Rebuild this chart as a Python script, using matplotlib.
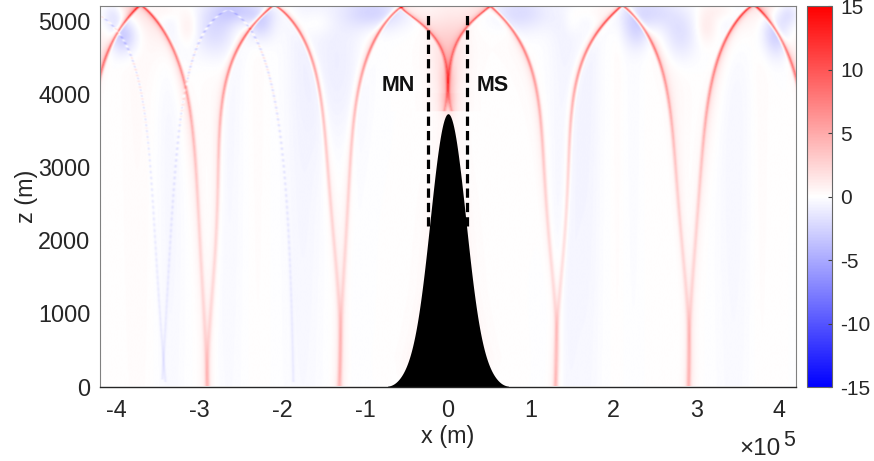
import numpy as np
import matplotlib
matplotlib.use("Agg")
import matplotlib.pyplot as plt

plt.rcParams['font.family'] = ['Liberation Sans', 'DejaVu Sans']

# ---- values (x in units of 1e5 m, z in m) ----
r1_x = [0.507, 0.712, 0.869, 0.989, 1.074, 1.146, 1.194, 1.255, 1.303, 1.303]
r1_z = [5200, 4939, 4734, 4419, 3955, 3135, 2548, 1633, 266, 0]
r2_x = [2.099, 1.954, 1.749, 1.628, 1.556, 1.484, 1.423, 1.351, 1.303, 1.303]
r2_z = [5200, 5007, 4775, 4501, 4051, 3463, 2548, 1182, 266, 0]
r3_x = [2.099, 2.316, 2.473, 2.593, 2.702, 2.786, 2.907, 2.907]
r3_z = [5200, 4939, 4693, 4283, 3463, 2548, 266, 0]
r4_x = [3.691, 3.486, 3.281, 3.185, 3.100, 3.016, 2.955, 2.907, 2.907]
r4_z = [5200, 4966, 4597, 4092, 3463, 2548, 1414, 266, 0]
r5_x = [3.691, 3.884, 4.041, 4.198, 4.30, 4.40]
r5_z = [5200, 4980, 4693, 4228, 3700, 3000]
r6_x = [0.507, 0.229, 0.060, 0.024, -0.01, -0.04]
r6_z = [5200, 4898, 4556, 4296, 4000, 3750]
l1_x = [-0.519, -0.784, -0.977, -1.098, -1.182, -1.206, -1.303, -1.303]
l1_z = [5200, 4911, 4501, 3914, 2999, 2548, 266, 0]
l2_x = [-2.111, -1.821, -1.628, -1.508, -1.411, -1.315, -1.315]
l2_z = [5200, 4870, 4460, 3463, 2548, 266, 0]
l3_x = [-2.111, -2.388, -2.593, -2.714, -2.786, -2.850, -2.907, -2.907]
l3_z = [5200, 4870, 4501, 3914, 2548, 1200, 48, 0]
l4_x = [-3.715, -3.510, -3.269, -3.148, -3.016, -2.960, -2.907, -2.907]
l4_z = [5200, 4966, 4501, 3914, 2548, 1200, 48, 0]
l5_x = [-3.715, -3.957, -4.113, -4.186, -4.30, -4.40]
l5_z = [5200, 4870, 4597, 4228, 3700, 3000]
l6_x = [-0.519, -0.253, -0.06, -0.024, 0.01, 0.04]
l6_z = [5200, 4870, 4556, 4296, 4000, 3750]

# ridge, top amplitude, bottom amplitude, tail side (+1 right, -1 left), tail amplitude
ridges = [
    (r1_x, r1_z, 8.0, 1.7, -1, 0.8), (r2_x, r2_z, 9.0, 1.7, -1, 0.9),
    (r3_x, r3_z, 8.0, 1.7, +1, 1.7), (r4_x, r4_z, 9.0, 1.7, +1, 2.0),
    (r5_x, r5_z, 8.0, 3.0, +1, 2.4), (r6_x, r6_z, 7.0, 1.0, -1, 2.6),
    (l1_x, l1_z, 8.0, 1.7, -1, 0.8), (l2_x, l2_z, 8.0, 1.7, +1, 0.7),
    (l3_x, l3_z, 9.0, 1.7, -1, 1.6), (l4_x, l4_z, 8.0, 1.7, -1, 2.2),
    (l5_x, l5_z, 8.0, 3.0, -1, 2.6), (l6_x, l6_z, 7.0, 1.0, +1, 2.6),
]

# faint striped beams
f1_x = [-4.198, -3.957, -3.80, -3.631, -3.558, -3.414]
f1_z = [5046, 4829, 4365, 3327, 2548, 48]
f2_x = [-2.654, -2.955, -3.197, -3.329, -3.450]
f2_z = [5142, 4829, 3818, 2548, 89]
f3_x = [-2.654, -2.352, -2.111, -1.942, -1.870]
f3_z = [5142, 4829, 3914, 2548, 48]
faint = [(f1_x, f1_z), (f2_x, f2_z), (f3_x, f3_z)]

# near-surface patches: x, z, width x, width z, amplitude
patch_x = [0.87, 2.40, 2.80, 2.28, 3.97, 4.12, -4.04, -3.92, -2.51, -2.83, -2.27,
           -0.86, -1.34, -3.14, -3.39, -1.58, 3.12, 3.32, 1.63, 1.50, 0.0]
patch_z = [5100, 5100, 4800, 4830, 4830, 5080, 5050, 4780, 5130, 4870, 4960,
           5100, 4365, 4910, 5140, 4960, 4910, 5140, 5140, 4960, 4600]
patch_sx = [0.25, 0.22, 0.15, 0.12, 0.12, 0.08, 0.10, 0.12, 0.22, 0.18, 0.12,
            0.25, 0.22, 0.09, 0.12, 0.15, 0.09, 0.14, 0.22, 0.08, 0.15]
patch_sz = [180, 170, 250, 170, 220, 120, 150, 170, 130, 260, 170,
            160, 800, 170, 100, 120, 170, 100, 100, 120, 500]
patch_a = [-2.0, -2.6, -1.8, -1.6, -3.0, -1.5, -2.0, -3.0, -2.6, -2.0, -2.4,
           -2.6, -1.1, 1.2, 0.9, 0.6, 1.2, 0.9, 0.7, 0.6, 1.0]

# faint vertical columns: x, width, amplitude
col_x = [1.45, 1.72, 3.45, 3.78, 2.05, -3.75, -3.35, -2.65, -1.75, -1.10, 2.45, 2.25, -2.3]
col_w = [0.16, 0.10, 0.15, 0.08, 0.05, 0.15, 0.12, 0.12, 0.16, 0.10, 0.08, 0.10, 0.08]
col_a = [-0.9, -0.5, -0.6, 0.25, 0.22, 0.3, -0.6, -0.5, -0.7, -0.15, 0.15, -0.2, 0.2]

# seamount half width (x) against height (z)
mount_x = [0.0, 0.02, 0.04, 0.08, 0.133, 0.197, 0.24, 0.30, 0.40, 0.50, 0.60, 0.66, 0.73]
mount_z = [3730, 3715, 3670, 3480, 3020, 2548, 2097, 1318, 730, 270, 90, 30, 4]

x_ticks = [-4, -3, -2, -1, 0, 1, 2, 3, 4]
z_ticks = [0, 1000, 2000, 3000, 4000, 5000]
cb_ticks = [-15, -10, -5, 0, 5, 10, 15]

# ---- build the field ----
xg = np.linspace(-4.2, 4.2, 1000)
zg = np.linspace(0, 5200, 760)
X, Z = np.meshgrid(xg, zg)
F = np.zeros_like(X)


def fit_track(zs, xs, deg=5, power=0.6):
    """Smooth curve through the read points, as x against a power of depth."""
    zs = np.asarray(zs, float)
    s = np.clip(1 - zs / 5200, 0, None) ** power
    c = np.polyfit(s, np.asarray(xs, float), min(deg, len(xs) - 2))
    return np.polyval(c, np.clip(1 - zg / 5200, 0, None) ** power)


for xs, zs, a_top, a_bot, side, tail in ridges:
    d = X - fit_track(zs, xs)[:, None]
    frac = np.clip(Z / 5200, 0, 1)
    amp = a_bot + (a_top - a_bot) * frac ** 4
    sig = 0.013 + 0.006 * (1 - frac)
    mask = Z >= min(zs)
    core = amp * np.exp(-0.5 * (d / sig) ** 2)
    core += 0.25 * amp * np.exp(-0.5 * (d / (sig * 3)) ** 2)
    sd = side * d
    tail_amp = 0.2 + tail * frac ** 3.0
    w = 0.06 + 0.14 * frac ** 2
    tl = np.where(sd > 0, tail_amp * np.exp(-sd / w), 0)
    edge = -1.0 * frac ** 4 * np.exp(-0.5 * ((sd + 0.04) / 0.02) ** 2)
    F += mask * (core + tl + edge)

for xs, zs in faint:
    d = X - fit_track(zs, xs, 3, 0.5)[:, None]
    frac = np.clip(Z / 5200, 0, 1)
    line = -0.9 * (1 - frac ** 2) + 2.6 * frac ** 2 * np.cos(2 * np.pi * Z / 80)
    F += (Z >= min(zs)) * (Z <= max(zs)) * line * np.exp(-0.5 * (d / 0.012) ** 2)

for px, pz, sx, sz, a in zip(patch_x, patch_z, patch_sx, patch_sz, patch_a):
    F += a * np.exp(-0.5 * ((X - px) / sx) ** 2 - 0.5 * ((Z - pz) / sz) ** 2)

for cx, cw, ca in zip(col_x, col_w, col_a):
    F += ca * (0.5 + 0.5 * Z / 5200) * np.exp(-0.5 * ((X - cx) / cw) ** 2)

# central beam above the summit and glow on the flanks
F += 1.8 * np.exp(-0.5 * (X / 0.06) ** 2) * np.clip((Z - 3600) / 300, 0, 1) * np.clip((4500 - Z) / 300, 0, 1)
edge_x = np.interp(zg, mount_z[::-1], mount_x[::-1])[:, None]
dist = np.abs(X) - edge_x
F += 0.45 * np.exp(-np.clip(dist, 0, None) / 0.13) * np.where(Z < 4000, 1, 0) * np.clip(Z / 400, 0.1, 1)

# ---- draw ----
W, H = 874, 461
fig = plt.figure(figsize=(W / 100, H / 100), dpi=100)
ax = fig.add_axes([100 / W, 1 - 386.5 / H, 696 / W, 380.5 / H])
im = ax.imshow(F, origin='lower', extent=[-4.2, 4.2, 0, 5200], aspect='auto',
               cmap='bwr', vmin=-15, vmax=15, interpolation='bilinear')

ax.plot([-0.24, -0.24], [2200, 5100], color='black', lw=2.3, dashes=(2.9, 1.6))
ax.plot([0.235, 0.235], [2200, 5100], color='black', lw=2.3, dashes=(2.9, 1.6))

# seamount profile: smooth fit of the log height against x squared
fit = np.polyfit(np.array(mount_x) ** 2, np.log(np.array(mount_z) / mount_z[0]), 4)
hx = np.linspace(0, max(mount_x), 200)
hz = mount_z[0] * np.exp(np.polyval(fit, hx ** 2))
ax.fill_between(np.r_[-hx[::-1], hx], 0, np.r_[hz[::-1], hz], color='black', lw=0)

ax.text(-0.60, 4120, 'MN', fontsize=15.5, fontweight='bold', ha='center', va='center', color='#111111')
ax.text(0.54, 4120, 'MS', fontsize=15.5, fontweight='bold', ha='center', va='center', color='#111111')

ax.set_xlim(-4.2, 4.2)
ax.set_ylim(0, 5200)
ax.set_xticks(x_ticks)
ax.set_yticks(z_ticks)
ax.set_xticklabels([str(v) for v in x_ticks])
ax.tick_params(axis='x', direction='in', length=0, labelsize=16.8, labelcolor='#262626', pad=9)
ax.tick_params(axis='y', direction='in', length=0, labelsize=16.8, labelcolor='#262626', pad=7)
ax.set_xlabel('x (m)', fontsize=16.8, color='#262626', labelpad=2)
ax.set_ylabel('z (m)', fontsize=16.8, color='#262626', labelpad=0)
for name in ('left', 'top', 'right'):
    ax.spines[name].set_color('#808080')
    ax.spines[name].set_linewidth(0.8)
ax.spines['bottom'].set_color('#262626')
ax.spines['bottom'].set_linewidth(1.0)

fig.text(739 / W, 1 - 455 / H, '×10', fontsize=17.5, color='#262626', ha='left', va='baseline')
fig.text(783 / W, 1 - 446 / H, '5', fontsize=15.5, color='#262626', ha='left', va='baseline')

cax = fig.add_axes([807 / W, 1 - 387 / H, 25 / W, 381 / H])
cb = fig.colorbar(im, cax=cax)
cb.set_ticks(cb_ticks)
cb.set_ticklabels([str(v) for v in cb_ticks])
cax.tick_params(direction='in', length=3, width=0.8, color='#404040', labelsize=15, labelcolor='#262626', pad=6)
cb.outline.set_edgecolor('#666666')
cb.outline.set_linewidth(0.8)

fig.savefig('out.png', dpi=100)
